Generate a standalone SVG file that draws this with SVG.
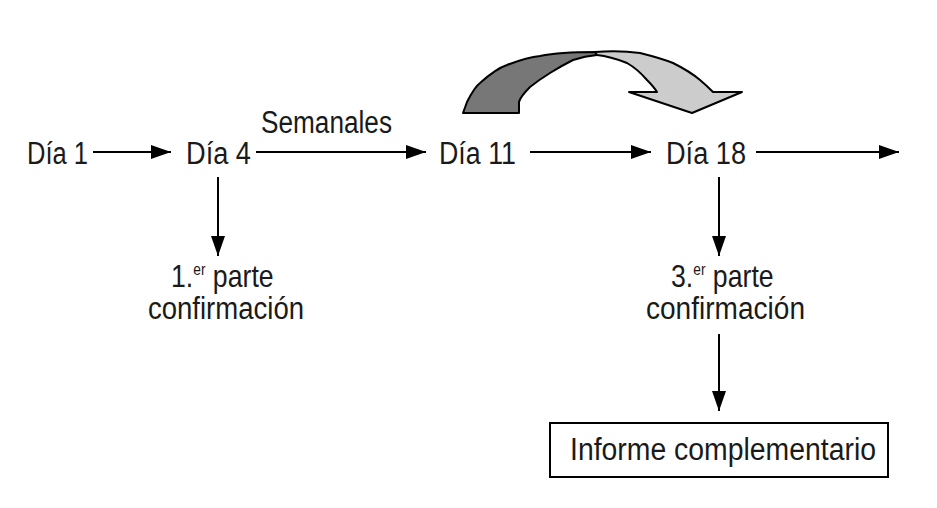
<svg xmlns="http://www.w3.org/2000/svg" width="937" height="508" viewBox="0 0 937 508">
<defs>
<marker id="ah" viewBox="0 0 20 14" refX="20" refY="7" markerWidth="20" markerHeight="14" markerUnits="userSpaceOnUse" orient="auto">
<path d="M0,0 L20,7 L0,14 Z" fill="#000"/>
</marker>
<style>
text{font-family:"Liberation Sans",Arial,sans-serif;font-size:31px;fill:#1a1a1a}
.sup{font-size:16px}
.c{stroke:#000;stroke-width:2;fill:none;marker-end:url(#ah)}
</style>
</defs>
<rect width="937" height="508" fill="#fff"/>
<g id="curved-arrow" stroke="#000" stroke-width="2" stroke-linejoin="round">
<path d="M463,113 L467,102 C472,92 476,86 480,83 C490,74 498,68 507,65 C520,60 530,57 540,56 C555,53 570,52 595,52 L597,55 C585,56 579,58 573,60 C565,64 558,68 550,73 C542,78 535,83 530,87 C524,93 520,98 519,102 L519,113 Z" fill="#777"/>
<path d="M595,52 C610,51 625,51 640,53 C652,56 663,59 673,63 C685,69 693,74 700,80 C706,85 710,89 713,92 L742,92 L692,113 L629,92 L657,92 C654,87 651,84 647,80 C641,73 634,67 627,63 C617,59 607,56 597,55 Z" fill="#ccc"/>
</g>
<g id="connectors">
<line class="c" x1="93" y1="152" x2="171" y2="152"/>
<line class="c" x1="256" y1="152" x2="426" y2="152"/>
<line class="c" x1="530" y1="152" x2="651" y2="152"/>
<line class="c" x1="756" y1="152" x2="899" y2="152"/>
<line class="c" x1="218" y1="177" x2="218" y2="256"/>
<line class="c" x1="719" y1="177" x2="719" y2="256"/>
<line class="c" x1="719" y1="334" x2="719" y2="411"/>
</g>
<g id="edge-label"><text x="261" y="133" textLength="131" lengthAdjust="spacingAndGlyphs">Semanales</text></g>
<g id="dia1"><text x="27" y="164" textLength="61" lengthAdjust="spacingAndGlyphs">Día 1</text></g>
<g id="dia4"><text x="186" y="164" textLength="65" lengthAdjust="spacingAndGlyphs">Día 4</text></g>
<g id="dia11"><text x="439" y="164" textLength="77" lengthAdjust="spacingAndGlyphs">Día 11</text></g>
<g id="dia18"><text x="666" y="164" textLength="80" lengthAdjust="spacingAndGlyphs">Día 18</text></g>
<g id="parte1"><text transform="translate(171,287) scale(0.86,1)">1.<tspan class="sup" dy="-12">er</tspan><tspan dy="12"> parte</tspan></text><text x="148" y="319" textLength="156" lengthAdjust="spacingAndGlyphs">confirmación</text></g>
<g id="parte3"><text transform="translate(671,287) scale(0.86,1)">3.<tspan class="sup" dy="-12">er</tspan><tspan dy="12"> parte</tspan></text><text x="646" y="319" textLength="159" lengthAdjust="spacingAndGlyphs">confirmación</text></g>
<g id="informe"><rect x="550" y="423" width="338" height="54" fill="#fff" stroke="#000" stroke-width="2"/><text x="570" y="460" textLength="306" lengthAdjust="spacingAndGlyphs">Informe complementario</text></g>
</svg>
